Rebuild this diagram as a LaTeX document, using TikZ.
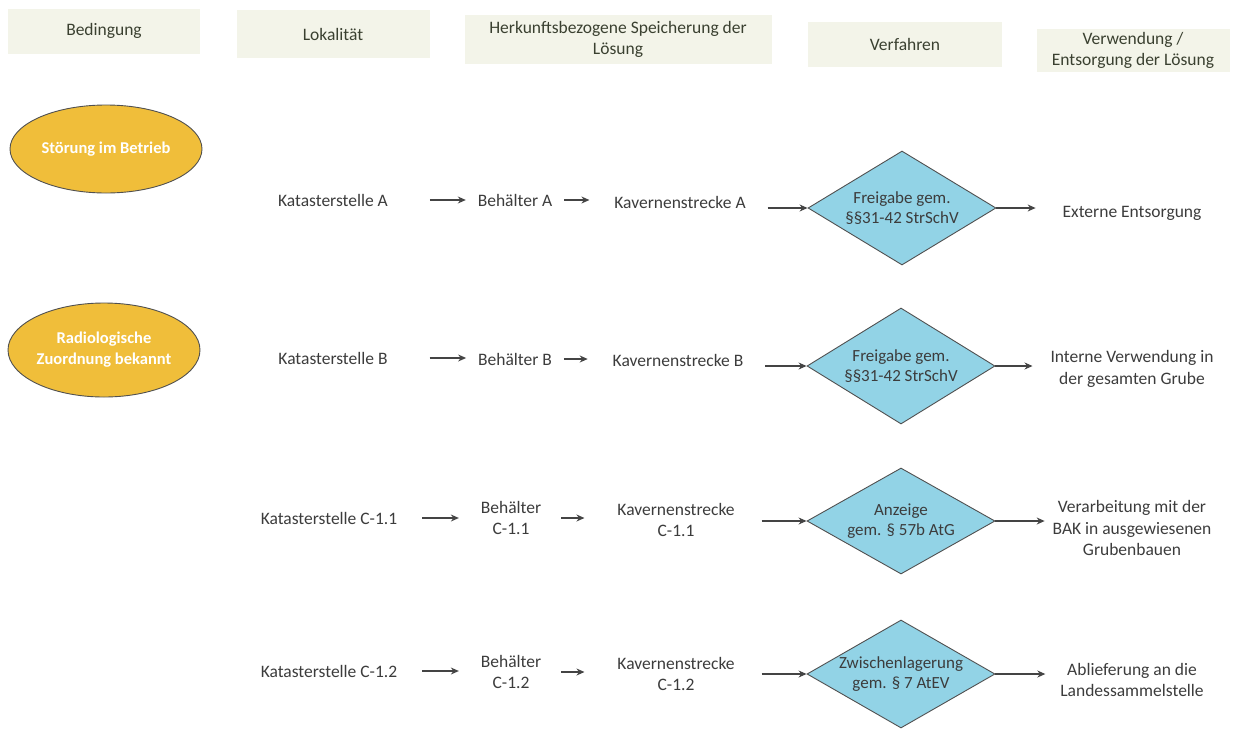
\documentclass[tikz,border=0pt]{standalone}
\usepackage{fontspec}
\setmainfont{Carlito}
\usetikzlibrary{shapes.geometric,arrows.meta}
\definecolor{hdrfill}{HTML}{F3F4E9}
\definecolor{hdrtext}{HTML}{3A4030}
\definecolor{txt}{HTML}{3C3C3C}
\definecolor{ellfill}{HTML}{F0BE3A}
\definecolor{diafill}{HTML}{92D3E6}
\definecolor{edge}{HTML}{505050}
\definecolor{arrcol}{HTML}{444444}
\tikzset{
  hdr/.style={rectangle, fill=hdrfill, inner sep=0pt, text=hdrtext, align=center, font=\fontsize{17.5}{21}\selectfont},
  lbl/.style={inner sep=0pt, outer sep=0pt, text=txt, align=center, font=\fontsize{17.5}{21.5}\selectfont},
  cond/.style={ellipse, fill=ellfill, draw=edge, line width=0.9pt, minimum width=192pt, minimum height=88pt, inner sep=0pt, text=white, align=center, font=\bfseries\fontsize{16.5}{21}\selectfont},
  proc/.style={diamond, fill=diafill, draw=edge, line width=0.9pt, inner sep=0pt, minimum width=188pt, minimum height=112pt},
  proctext/.style={inner sep=0pt, text=txt, align=center, font=\fontsize{17}{20.5}\selectfont},
  arr/.style={draw=arrcol, line width=1.2pt, -{Stealth[length=8pt,width=7pt]}}
}
\begin{document}
\begin{tikzpicture}[x=1pt,y=-1pt]
\useasboundingbox (0,0) rectangle (1236,731);
% headers
\node[hdr, minimum width=192pt, minimum height=45pt] (h1) at (104,31) {Bedingung};
\node[hdr, minimum width=193pt, minimum height=48pt] (h2) at (333,34) {Lokalität};
\node[hdr, minimum width=307pt, minimum height=49pt] (h3) at (618,39) {Herkunftsbezogene Speicherung der\\Lösung};
\node[hdr, minimum width=194pt, minimum height=45pt] (h4) at (905,44) {Verfahren};
\node[hdr, minimum width=193pt, minimum height=43pt] (h5) at (1133,50) {Verwendung /\\Entsorgung der Lösung};
% conditions
\node[cond] (c1) at (106,149) {Störung im Betrieb};
\node[cond, minimum height=94pt] (c2) at (104,350) {Radiologische\\Zuordnung bekannt};
% row A
\node[lbl] (kA) at (333,200) {Katasterstelle A};
\node[lbl] (bA) at (515,200) {Behälter A};
\node[lbl] (vA) at (680,202) {Kavernenstrecke A};
\node[proc, minimum height=114pt] (dA) at (902,208) {};
\node[proctext] (tA) at (dA) {Freigabe gem.\\§§31-42 StrSchV};
\node[lbl] (eA) at (1132,213) {Externe Entsorgung};
% row B
\node[lbl] (kB) at (333,358) {Katasterstelle B};
\node[lbl] (bB) at (515,359) {Behälter B};
\node[lbl] (vB) at (678,360) {Kavernenstrecke B};
\node[proc, minimum height=116pt] (dB) at (901,366) {};
\node[proctext] (tB) at (dB) {Freigabe gem.\\§§31-42 StrSchV};
\node[lbl] (eB) at (1132,369) {Interne Verwendung in\\der gesamten Grube};
% row C1
\node[lbl] (kC) at (329,518) {Katasterstelle C-1.1};
\node[lbl] (bC) at (511,518) {Behälter\\C-1.1};
\node[lbl] (vC) at (676,520) {Kavernenstrecke\\C-1.1};
\node[proc, minimum height=106pt] (dC) at (901,521) {};
\node[proctext] (tC) at (dC) {Anzeige\\gem. § 57b AtG};
\node[lbl] (eC) at (1132,528) {Verarbeitung mit der\\BAK in ausgewiesenen\\Grubenbauen};
% row C2
\node[lbl] (kD) at (329,671) {Katasterstelle C-1.2};
\node[lbl] (bD) at (511,672) {Behälter\\C-1.2};
\node[lbl] (vD) at (676,674) {Kavernenstrecke\\C-1.2};
\node[proc, minimum height=108pt] (dD) at (901,674) {};
\node[proctext] (tD) at (dD) {Zwischenlagerung\\gem. § 7 AtEV};
\node[lbl] (eD) at (1132,680) {Ablieferung an die\\Landessammelstelle};
% arrows row A
\draw[arr, shorten <=42pt, shorten >=12pt] (kA.east) -- (bA.west);
\draw[arr, shorten <=12pt, shorten >=25pt] (bA.east) -- (bA.east -| vA.west);
\draw[arr, shorten <=22pt] (vA.east |- dA) -- (dA.west);
\draw[arr, shorten >=27pt] (dA.east) -- (dA.east -| eA.west);
% arrows row B
\draw[arr, shorten <=42pt, shorten >=12pt] (kB.east) -- (kB.east -| bB.west);
\draw[arr, shorten <=12pt, shorten >=25pt] (bB.east) -- (bB.east -| vB.west);
\draw[arr, shorten <=22pt] (vB.east |- dB) -- (dB.west);
\draw[arr, shorten >=18pt] (dB.east) -- (dB.east -| eB.west);
% arrows row C1
\draw[arr, shorten <=25pt, shorten >=22pt] (kC.east) -- (kC.east -| bC.west);
\draw[arr, shorten <=20pt, shorten >=33pt] (bC.east) -- (bC.east -| vC.west);
\draw[arr, shorten <=27pt] (vC.east |- dC) -- (dC.west);
\draw[arr, shorten >=8pt] (dC.east) -- (dC.east -| eC.west);
% arrows row C2
\draw[arr, shorten <=25pt, shorten >=22pt] (kD.east) -- (kD.east -| bD.west);
\draw[arr, shorten <=20pt, shorten >=33pt] (bD.east) -- (bD.east -| vD.west);
\draw[arr, shorten <=27pt] (vD.east |- dD) -- (dD.west);
\draw[arr, shorten >=15pt] (dD.east) -- (dD.east -| eD.west);
\end{tikzpicture}
\end{document}
